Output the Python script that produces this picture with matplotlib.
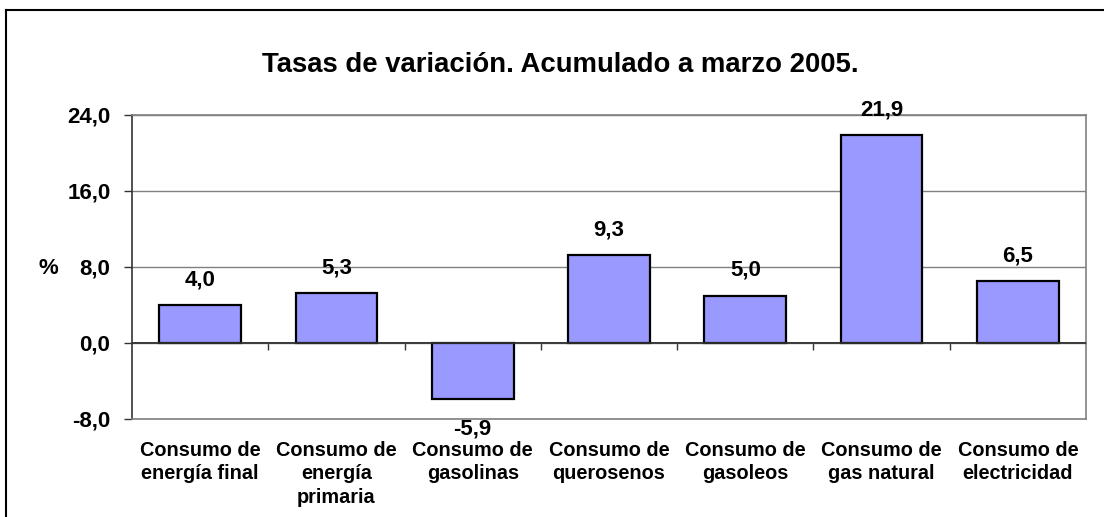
import matplotlib
matplotlib.use("Agg")
import matplotlib.pyplot as plt
from matplotlib.lines import Line2D
from matplotlib.ticker import FuncFormatter

plt.rcParams['font.family'] = ['Liberation Sans', 'DejaVu Sans']
plt.rcParams['font.weight'] = 'bold'

categories = ["Consumo de\nenergía final", "Consumo de\nenergía\nprimaria", "Consumo de\ngasolinas",
              "Consumo de\nquerosenos", "Consumo de\ngasoleos", "Consumo de\ngas natural",
              "Consumo de\nelectricidad"]
values = [4.0, 5.3, -5.9, 9.3, 5.0, 21.9, 6.5]
yticks = [-8, 0, 8, 16, 24]
title = "Tasas de variación. Acumulado a marzo 2005."

W, H = 1104, 517
fig = plt.figure(figsize=(W / 100, H / 100), dpi=100)
fig.patch.set_facecolor('white')
ax = fig.add_axes([132 / W, 1 - 419 / H, (1086 - 132) / W, (419 - 115) / H])

x = list(range(len(values)))
ax.bar(x, values, width=0.6, color='#9999FF', edgecolor='black', linewidth=1.6, zorder=3)

ax.set_xlim(-0.5, len(values) - 0.5)
ax.set_ylim(yticks[0], yticks[-1])
ax.set_yticks(yticks)
ax.yaxis.set_major_formatter(FuncFormatter(lambda v, p: f"{v:.1f}".replace('.', ',')))
ax.tick_params(axis='y', direction='out', length=6, width=1, color='#333333', pad=9.5, labelsize=16)
for lab in ax.get_yticklabels():
    lab.set_fontweight('bold')

ax.set_xticks(x)
ax.set_xticklabels(categories, fontsize=14.3, fontweight='bold', linespacing=1.32)
ax.tick_params(axis='x', length=0, pad=15.5)

ax.grid(axis='y', color='#808080', linewidth=1, zorder=0)
for s in ['top', 'right', 'bottom']:
    ax.spines[s].set_color('#808080')
    ax.spines[s].set_linewidth(1.2)
ax.spines['left'].set_color('#333333')
ax.spines['left'].set_linewidth(1.2)

# x axis crossing at zero with boundary ticks
sec = ax.secondary_xaxis((0 - yticks[0]) / (yticks[-1] - yticks[0]))
sec.set_xticks([i + 0.5 for i in x[:-1]])
sec.set_xticklabels([])
sec.tick_params(direction='out', length=5, width=1, color='#333333')
sec.spines['bottom'].set_color('#333333')
sec.spines['bottom'].set_linewidth(1.2)
ax.axhline(0, color='#333333', linewidth=1.2, zorder=4)

for xi, v in zip(x, values):
    label = f"{v:.1f}".replace('.', ',')
    if v >= 0:
        ax.annotate(label, (xi, v), xytext=(0, 10.5), textcoords='offset points',
                    ha='center', va='bottom', fontsize=16, fontweight='bold', zorder=5)
    else:
        ax.annotate(label, (xi, v), xytext=(0, -14), textcoords='offset points',
                    ha='center', va='top', fontsize=16, fontweight='bold', zorder=5)

fig.text(48 / W, 1 - 269 / H, "%", ha='center', va='center', fontsize=16, fontweight='bold')
fig.text(560 / W, 1 - 65 / H, title, ha='center', va='center', fontsize=19.8, fontweight='bold')

# outer chart border (left and top)
fig.add_artist(Line2D([6 / W, 6 / W], [0, 1 - 10 / H], color='black', linewidth=1.5,
                      transform=fig.transFigure))
fig.add_artist(Line2D([6 / W, 1], [1 - 10 / H, 1 - 10 / H], color='black', linewidth=1.5,
                      transform=fig.transFigure))

fig.savefig("out.png", dpi=100)
